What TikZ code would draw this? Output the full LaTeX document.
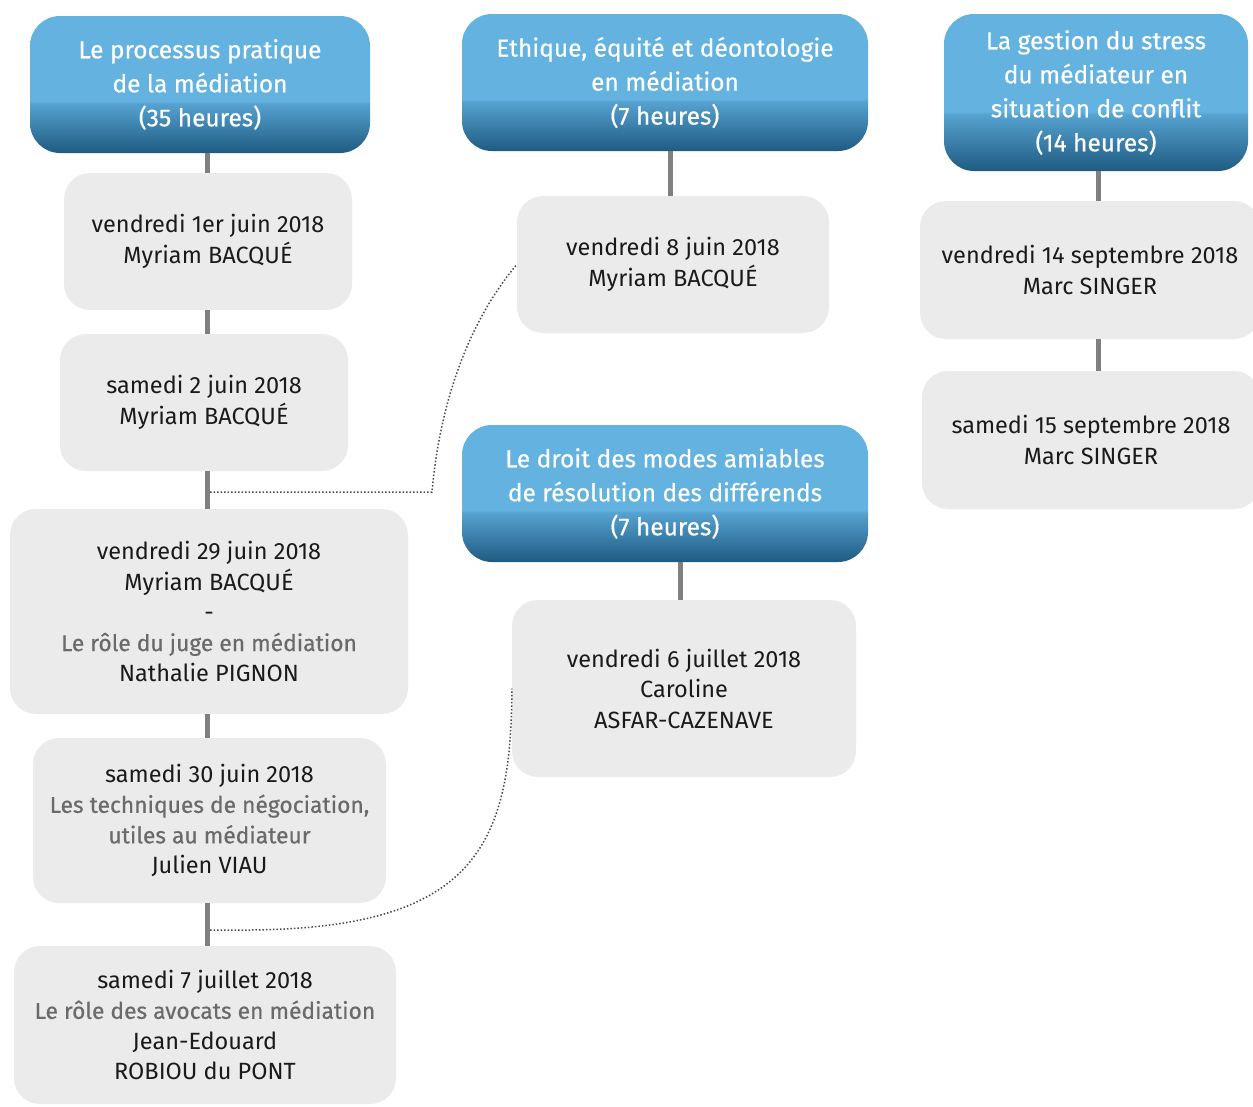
\documentclass[tikz,border=0pt]{standalone}
\usepackage{fontspec}
\setmainfont{Fira Sans}
\newfontfamily\medfont{Fira Sans}[FakeBold=0.5]
\definecolor{hdrlight}{HTML}{63B2DF}
\definecolor{hdrmid}{HTML}{56A2D0}
\definecolor{hdrdark}{HTML}{1E5B82}
\definecolor{cardgray}{HTML}{EBEBEB}
\definecolor{bodytext}{HTML}{1A1A1A}
\definecolor{subgray}{HTML}{6A6A6A}
\definecolor{conngray}{HTML}{808080}
\definecolor{dotgray}{HTML}{4A4A4A}
\pgfdeclareverticalshading{hdrshade}{100bp}{color(0bp)=(hdrdark); color(25bp)=(hdrdark); color(43bp)=(hdrmid); color(44bp)=(hdrlight); color(100bp)=(hdrlight)}
\newcommand{\subt}[1]{{\medfont\color{subgray}\fontsize{22.8}{30.5}\selectfont#1}}
\begin{document}
\begin{tikzpicture}[x=1pt,y=-1pt,
  hdr/.style={shade, shading=hdrshade, rounded corners=30, text=white, align=center,
    font=\medfont\fontsize{24.5}{34}\selectfont, inner sep=0pt},
  card/.style={fill=cardgray, rounded corners=26, align=center,
    font=\fontsize{23.5}{30.5}\selectfont, text=bodytext, inner sep=0pt},
  conn/.style={draw=conngray, line width=5pt},
  dots/.style={draw=dotgray, dotted, line width=1.5pt}]
\useasboundingbox (0,0) rectangle (1253,1106);
% headers
\node[hdr, minimum width=340, minimum height=137] (h1) at (200,84.5)
  {Le processus pratique\\de la médiation\\(35 heures)};
\node[hdr, minimum width=406, minimum height=137] (h2) at (665,82.5)
  {Ethique, équité et déontologie\\en médiation\\(7 heures)};
\node[hdr, minimum width=304, minimum height=157] (h3) at (1096,92.5)
  {La gestion du stress\\du médiateur en\\situation de conflit\\(14 heures)};
\node[hdr, minimum width=406, minimum height=137] (h4) at (665,493.5)
  {Le droit des modes amiables\\de résolution des différends\\(7 heures)};
% cards
\node[card, minimum width=288, minimum height=137] (b1) at (208,241.5)
  {vendredi 1er juin 2018\\Myriam BACQUÉ};
\node[card, minimum width=288, minimum height=137] (b2) at (204,402.5)
  {samedi 2 juin 2018\\Myriam BACQUÉ};
\node[card, minimum width=398, minimum height=205] (b3) at (209,611.5)
  {vendredi 29 juin 2018\\Myriam BACQUÉ\\-\\\subt{Le rôle du juge en médiation}\\Nathalie PIGNON};
\node[card, minimum width=353, minimum height=165] (b4) at (209.5,820.5)
  {samedi 30 juin 2018\\\subt{Les techniques de négociation,}\\\subt{utiles au médiateur}\\Julien VIAU};
\node[card, minimum width=382, minimum height=158] (b5) at (205,1025)
  {samedi 7 juillet 2018\\\subt{Le rôle des avocats en médiation}\\Jean-Edouard\\ROBIOU du PONT};
\node[card, minimum width=312, minimum height=137] (b6) at (673,264.5)
  {vendredi 8 juin 2018\\Myriam BACQUÉ};
\node[card, minimum width=344, minimum height=177] (b7) at (684,688.5)
  {vendredi 6 juillet 2018\\Caroline\\ASFAR-CAZENAVE};
\node[card, minimum width=340, minimum height=138] (b8) at (1090,270)
  {vendredi 14 septembre 2018\\Marc SINGER};
\node[card, minimum width=338, minimum height=138] (b9) at (1091,440)
  {samedi 15 septembre 2018\\Marc SINGER};
% spines
\coordinate (sl) at (207,0);
\coordinate (sm) at (670,0);
\coordinate (sm2) at (680,0);
\coordinate (sr) at (1098,0);
\draw[conn] (sl |- h1.south) -- (sl |- b1.north);
\draw[conn] (sl |- b1.south) -- (sl |- b2.north);
\draw[conn] (sl |- b2.south) -- (sl |- b3.north);
\draw[conn] (sl |- b3.south) -- (sl |- b4.north);
\draw[conn] (sl |- b4.south) -- (sl |- b5.north);
\draw[conn] (sm |- h2.south) -- (sm |- b6.north);
\draw[conn] (sm2 |- h4.south) -- (sm2 |- b7.north);
\draw[conn] (sr |- h3.south) -- (sr |- b8.north);
\draw[conn] (sr |- b8.south) -- (sr |- b9.north);
% dotted links
\coordinate (d1) at (210,492);
\coordinate (d2) at (210,930);
\draw[dots] (d1) -- (432,492) .. controls (440,400) and (470,320) .. (b6.west);
\draw[dots] (d2) -- (250,930) .. controls (470,928) and (512,850) .. (b7.west);
\end{tikzpicture}
\end{document}
